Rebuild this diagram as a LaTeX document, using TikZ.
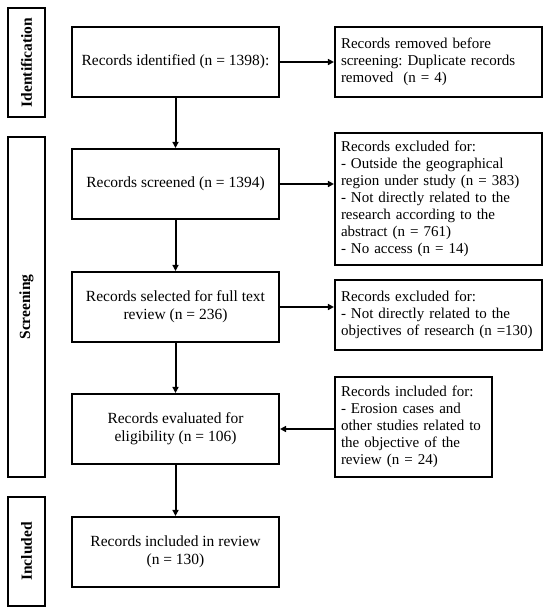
\documentclass[tikz,border=0pt]{standalone}
\usepackage{fontspec}
\setmainfont{Liberation Serif}
\usetikzlibrary{arrows.meta}
\frenchspacing
\tikzset{
  bx/.style={draw=black, line width=2.1pt, rectangle, inner sep=0pt,
    font=\fontsize{15.5}{18}\selectfont, align=center},
  mainbox/.style={bx, minimum width=207pt, minimum height=70pt},
  sidebox/.style={bx, inner xsep=6pt, align=left, font=\fontsize{15}{16.9}\selectfont},
  phase/.style={bx, rotate=90, minimum height=37pt, font=\fontsize{15.5}{18}\selectfont\bfseries},
  arr/.style={line width=2pt, -{Triangle[length=6pt,width=6pt]}}
}
\begin{document}
\begin{tikzpicture}[x=1pt,y=-1pt]
\useasboundingbox (0,0) rectangle (550,614);
% phase labels
\node[phase, minimum width=109pt] (pid) at (26.5,62.5) {Identification};
\node[phase, minimum width=340pt] (pscr) at (26.5,307) {Screening};
\node[phase, minimum width=109pt] (pinc) at (26.5,551.5) {Included};
% main column
\node[mainbox] (b1) at (175.5,62) {Records identified (n = 1398):};
\node[mainbox] (b2) at (175.5,184) {Records screened (n = 1394)};
\node[mainbox] (b3) at (175.5,307) {Records selected for full text\\review (n = 236)};
\node[mainbox] (b4) at (175.5,429) {Records evaluated for\\eligibility (n = 106)};
\node[mainbox] (b5) at (175.5,552) {Records included in review\\(n = 130)};
% side column
\node[sidebox, text width=195pt, minimum height=70pt] (rem) at (438.5,62)
  {Records removed before\\screening: Duplicate records\\removed\ \ (n = 4)};
\node[sidebox, text width=195pt, minimum height=132pt] (ex1) at (438.5,199)
  {Records excluded for:\\- Outside the geographical\\region under study (n = 383)\\- Not directly related to the\\research according to the\\abstract (n = 761)\\- No access (n = 14)};
\node[sidebox, text width=195pt, minimum height=70pt] (ex2) at (438.5,315)
  {Records excluded for:\\- Not directly related to the\\\mbox{objectives of research (n =130)}};
\node[sidebox, text width=145pt, minimum height=100pt] (inf) at (413.5,427)
  {Records included for:\\- Erosion cases and\\other studies related to\\the objective of the\\review (n = 24)};
% connectors
\draw[arr] (b1) -- (b2);
\draw[arr] (b2) -- (b3);
\draw[arr] (b3) -- (b4);
\draw[arr] (b4) -- (b5);
\draw[arr] (b1.east) -- (rem.west);
\draw[arr] (b2.east) -- (b2.east -| ex1.west);
\draw[arr] (b3.east) -- (b3.east -| ex2.west);
\draw[arr] (inf.west |- b4.east) -- (b4.east);
\end{tikzpicture}
\end{document}
